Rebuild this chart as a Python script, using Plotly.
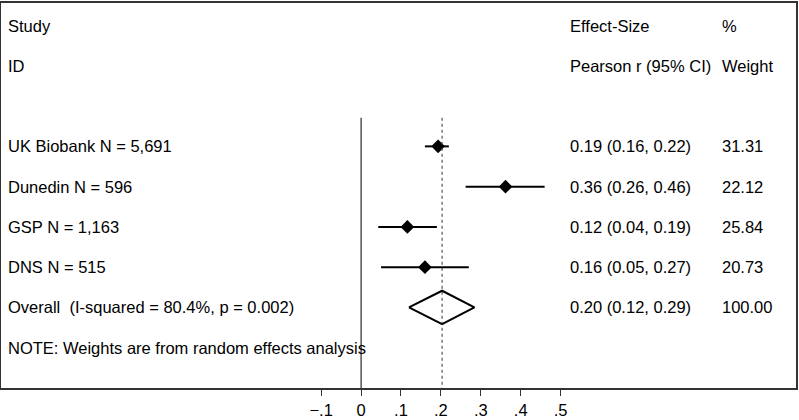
import plotly.graph_objects as go

# ---- data ----
studies = ["UK Biobank N = 5,691", "Dunedin N = 596", "GSP N = 1,163", "DNS N = 515"]
est = [0.193, 0.362, 0.116, 0.160]
lo = [0.160, 0.262, 0.043, 0.050]
hi = [0.220, 0.460, 0.190, 0.270]
es_labels = ["0.19 (0.16, 0.22)", "0.36 (0.26, 0.46)", "0.12 (0.04, 0.19)", "0.16 (0.05, 0.27)"]
weights = ["31.31", "22.12", "25.84", "20.73"]
overall_label = "Overall  (I-squared = 80.4%, p = 0.002)"
overall_est = 0.203
overall_lo = 0.120
overall_hi = 0.284
overall_es_label = "0.20 (0.12, 0.29)"
overall_weight = "100.00"
tick_vals = [-0.1, 0, 0.1, 0.2, 0.3, 0.4, 0.5]
tick_text = ["\u2212.1", "0", ".1", ".2", ".3", ".4", ".5"]

FONT = "Liberation Sans, Arial, Helvetica, sans-serif"
FS = 16.5

rows = [3, 4, 5, 6]
overall_row = 7

fig = go.Figure()

# CI lines + markers
fig.add_trace(go.Scatter(
    x=est, y=rows, mode="markers",
    marker=dict(symbol="diamond", size=10.5, color="black"),
    error_x=dict(type="data", symmetric=False,
                 array=[h - e for h, e in zip(hi, est)],
                 arrayminus=[e - l for e, l in zip(est, lo)],
                 width=0, thickness=2, color="black"),
    showlegend=False, hoverinfo="skip"))

# overall diamond
h = 0.415
fig.add_trace(go.Scatter(
    x=[overall_lo, overall_est, overall_hi, overall_est, overall_lo],
    y=[overall_row, overall_row - h, overall_row, overall_row + h, overall_row],
    mode="lines", line=dict(color="black", width=2),
    showlegend=False, hoverinfo="skip"))

# null line and overall dashed line
fig.add_shape(type="line", x0=0, x1=0, y0=2.29, y1=9, xref="x", yref="y",
              line=dict(color="black", width=1))
fig.add_shape(type="line", x0=overall_est, x1=overall_est, y0=2.29, y1=9, xref="x", yref="y",
              line=dict(color="#333", width=1, dash="3px,3px"))

# text
x_left = -0.89
x_es = 0.5175
x_w = 0.9

def txt(x, y, s):
    fig.add_annotation(x=x, y=y, xref="x", yref="y", text=s, showarrow=False,
                       xanchor="left", yanchor="middle",
                       font=dict(family=FONT, size=FS, color="black"))

txt(x_left, 0, "Study")
txt(x_left, 1, "ID")
txt(x_es, 0, "Effect-Size")
txt(x_es, 1, "Pearson r (95% CI)")
txt(x_w, 0, "%")
txt(x_w, 1, "Weight")
for r, s, e, w in zip(rows, studies, es_labels, weights):
    txt(x_left, r, s)
    txt(x_es, r, e)
    txt(x_w, r, w)
txt(x_left, overall_row, overall_label)
txt(x_es, overall_row, overall_es_label)
txt(x_w, overall_row, overall_weight)
txt(x_left, 8, "NOTE: Weights are from random effects analysis")

fig.update_layout(
    width=799, height=420,
    margin=dict(l=1, r=1, t=1, b=27),
    paper_bgcolor="white", plot_bgcolor="white",
    font=dict(family=FONT, size=FS, color="black"),
    xaxis=dict(range=[-0.9025, 1.09], tickvals=tick_vals, ticktext=tick_text,
               ticks="outside", ticklen=6, tickwidth=1, tickcolor="#333",
               showgrid=False, zeroline=False, showline=True, linecolor="#333",
               linewidth=2, mirror=True, tickfont=dict(family=FONT, size=FS)),
    yaxis=dict(range=[9, -0.56], showticklabels=False, showgrid=False, zeroline=False,
               showline=True, linecolor="#333", linewidth=2, mirror=True, ticks=""),
)

fig.write_html("out.html", config={"displayModeBar": False},
               post_script="document.body.style.margin='0';document.body.style.overflow='hidden';")
